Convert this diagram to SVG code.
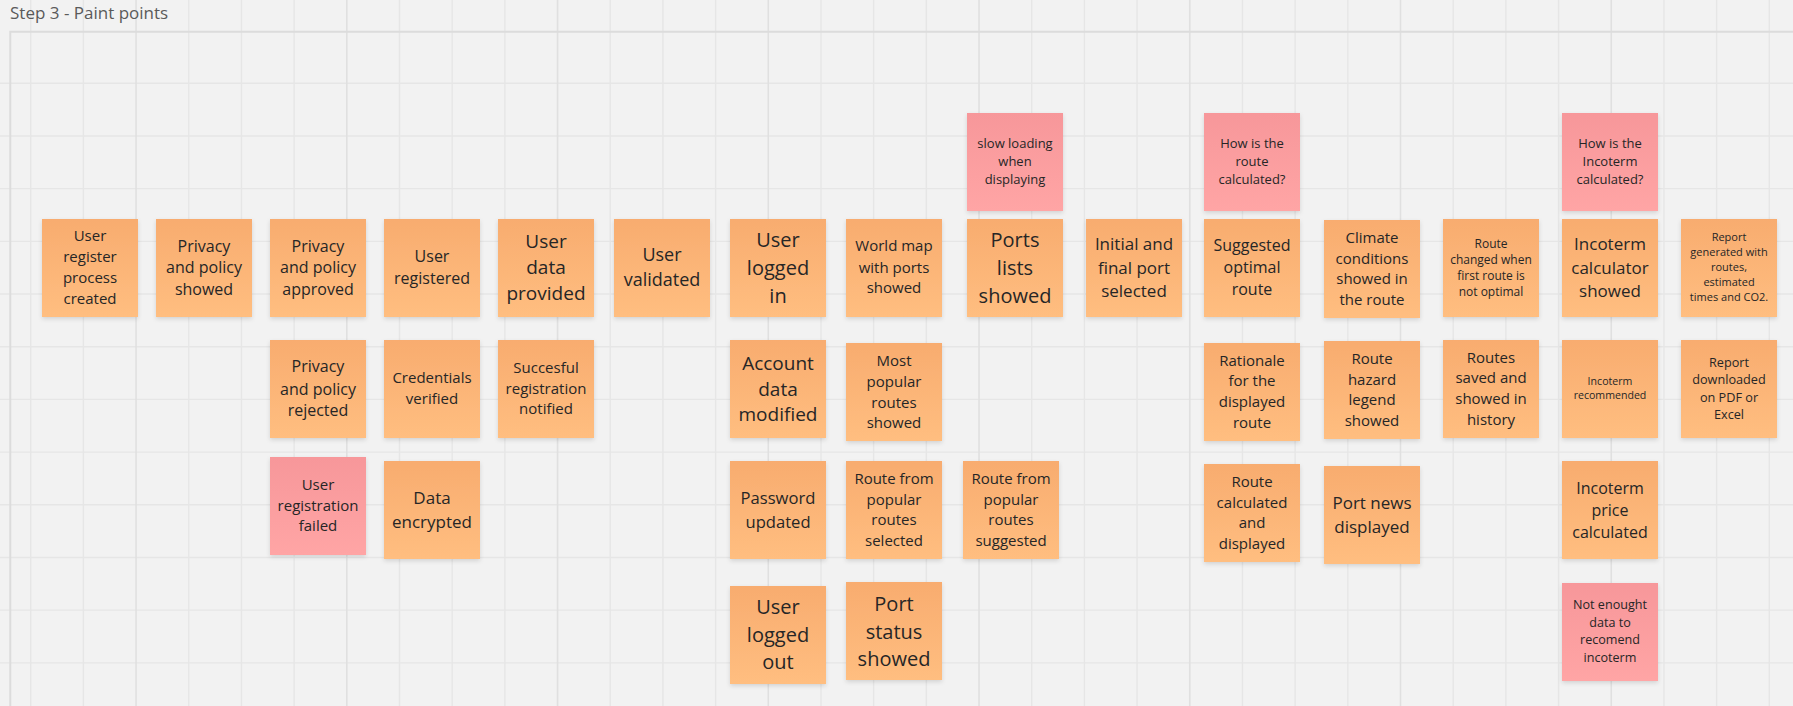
<svg xmlns="http://www.w3.org/2000/svg" width="1793" height="706" viewBox="0 0 1793 706">
<style>
.bg{fill:#f2f2f2}
.grid{stroke:#e6e6e6;stroke-width:1.4;fill:none}
.gridM{stroke:#e0e0e0;stroke-width:1.6;fill:none}
.frame{stroke:#dcdcdc;stroke-width:2;fill:none}
.o{fill:url(#go);filter:url(#sh)}
.p{fill:url(#gp);filter:url(#sh)}
.t{font-family:"Open Sans","Liberation Sans",sans-serif;fill:#262626;text-anchor:middle}
.title{font-family:"Open Sans","Liberation Sans",sans-serif;font-size:17px;fill:#5a5a5a}
</style>
<defs>
<linearGradient id="go" x1="0" y1="0" x2="0" y2="1"><stop offset="0" stop-color="#f8ac6f"/><stop offset="1" stop-color="#ffbe80"/></linearGradient>
<linearGradient id="gp" x1="0" y1="0" x2="0" y2="1"><stop offset="0" stop-color="#f7979a"/><stop offset="1" stop-color="#ffa5a5"/></linearGradient>
<filter id="sh" x="-10%" y="-10%" width="120%" height="125%"><feDropShadow dx="0" dy="2" stdDeviation="2" flood-color="#000" flood-opacity="0.13"/></filter>
</defs>
<rect class="bg" x="0" y="0" width="1793" height="706"/>
<g id="grid">
<path class="grid" d="M30.7 0V706M83.39 0V706M188.76 0V706M241.44 0V706M294.13 0V706M399.5 0V706M452.18 0V706M504.87 0V706M610.24 0V706M662.92 0V706M715.61 0V706M820.98 0V706M873.66 0V706M926.35 0V706M1031.72 0V706M1084.4 0V706M1137.09 0V706M1242.46 0V706M1295.14 0V706M1347.83 0V706M1453.2 0V706M1505.88 0V706M1558.57 0V706M1663.94 0V706M1716.62 0V706M1769.31 0V706M0 83.3H1793M0 135.99H1793M0 188.67H1793M0 241.36H1793M0 294.04H1793M0 346.73H1793M0 399.41H1793M0 452.1H1793M0 504.78H1793M0 557.47H1793M0 610.15H1793M0 662.84H1793"/>
<path class="gridM" d="M136.07 0V706M346.81 0V706M557.55 0V706M768.29 0V706M979.03 0V706M1189.77 0V706M1400.51 0V706M1611.25 0V706"/>
<path class="frame" d="M10.3 706V31.7H1793"/>
</g>
<text class="title" x="10" y="18.5">Step 3 - Paint points</text>
<g id="connectors"/>

<g id="n01"><rect class="o" x="42" y="219" width="96" height="98"/><text class="t" font-size="15"><tspan x="90" y="241">User</tspan><tspan x="90" y="262">register</tspan><tspan x="90" y="283">process</tspan><tspan x="90" y="303.5">created</tspan></text></g>
<g id="n02"><rect class="o" x="156" y="219" width="96" height="98"/><text class="t" font-size="16"><tspan x="204" y="251.6">Privacy</tspan><tspan x="204" y="273.3">and policy</tspan><tspan x="204" y="294.9">showed</tspan></text></g>
<g id="n03"><rect class="o" x="270" y="219" width="96" height="98"/><text class="t" font-size="16"><tspan x="318" y="251.6">Privacy</tspan><tspan x="318" y="273.3">and policy</tspan><tspan x="318" y="294.9">approved</tspan></text></g>
<g id="n04"><rect class="o" x="384" y="219" width="96" height="98"/><text class="t" font-size="16"><tspan x="432" y="262.3">User</tspan><tspan x="432" y="283.9">registered</tspan></text></g>
<g id="n05"><rect class="o" x="498" y="219" width="96" height="98"/><text class="t" font-size="19"><tspan x="546" y="248.4">User</tspan><tspan x="546" y="274.4">data</tspan><tspan x="546" y="300">provided</tspan></text></g>
<g id="n06"><rect class="o" x="614" y="219" width="96" height="98"/><text class="t" font-size="18"><tspan x="662" y="261.3">User</tspan><tspan x="662" y="286.3">validated</tspan></text></g>
<g id="n07"><rect class="o" x="730" y="219" width="96" height="98"/><text class="t" font-size="20"><tspan x="778" y="247">User</tspan><tspan x="778" y="274.7">logged</tspan><tspan x="778" y="302.7">in</tspan></text></g>
<g id="n08"><rect class="o" x="846" y="219" width="96" height="98"/><text class="t" font-size="15"><tspan x="894" y="251.3">World map</tspan><tspan x="894" y="272.6">with ports</tspan><tspan x="894" y="293">showed</tspan></text></g>
<g id="n09"><rect class="o" x="967" y="219" width="96" height="98"/><text class="t" font-size="20"><tspan x="1015" y="247">Ports</tspan><tspan x="1015" y="274.7">lists</tspan><tspan x="1015" y="302.7">showed</tspan></text></g>
<g id="n10"><rect class="o" x="1086" y="219" width="96" height="98"/><text class="t" font-size="17"><tspan x="1134" y="250">Initial and</tspan><tspan x="1134" y="273.6">final port</tspan><tspan x="1134" y="296.6">selected</tspan></text></g>
<g id="n11"><rect class="o" x="1204" y="219" width="96" height="98"/><text class="t" font-size="16"><tspan x="1252" y="251.3">Suggested</tspan><tspan x="1252" y="273.3">optimal</tspan><tspan x="1252" y="295.3">route</tspan></text></g>
<g id="n12"><rect class="o" x="1324" y="220" width="96" height="98"/><text class="t" font-size="15"><tspan x="1372" y="242.6">Climate</tspan><tspan x="1372" y="263.6">conditions</tspan><tspan x="1372" y="284.3">showed in</tspan><tspan x="1372" y="305">the route</tspan></text></g>
<g id="n13"><rect class="o" x="1443" y="219" width="96" height="98"/><text class="t" font-size="12"><tspan x="1491" y="247.5">Route</tspan><tspan x="1491" y="263.5">changed when</tspan><tspan x="1491" y="279.5">first route is</tspan><tspan x="1491" y="295.5">not optimal</tspan></text></g>
<g id="n14"><rect class="o" x="1562" y="219" width="96" height="98"/><text class="t" font-size="17"><tspan x="1610" y="250.3">Incoterm</tspan><tspan x="1610" y="273.6">calculator</tspan><tspan x="1610" y="297">showed</tspan></text></g>
<g id="n15"><rect class="o" x="1681" y="219" width="96" height="98"/><text class="t" font-size="11"><tspan x="1729" y="241.2">Report</tspan><tspan x="1729" y="256.2">generated with</tspan><tspan x="1729" y="271.2">routes,</tspan><tspan x="1729" y="285.9">estimated</tspan><tspan x="1729" y="300.9">times and CO2.</tspan></text></g>

<g id="p01"><rect class="p" x="967" y="113" width="96" height="98"/><text class="t" font-size="13"><tspan x="1015" y="148.3">slow loading</tspan><tspan x="1015" y="165.9">when</tspan><tspan x="1015" y="183.6">displaying</tspan></text></g>
<g id="p02"><rect class="p" x="1204" y="113" width="96" height="98"/><text class="t" font-size="13"><tspan x="1252" y="148.3">How is the</tspan><tspan x="1252" y="165.9">route</tspan><tspan x="1252" y="183.6">calculated?</tspan></text></g>
<g id="p03"><rect class="p" x="1562" y="113" width="96" height="98"/><text class="t" font-size="13"><tspan x="1610" y="148.3">How is the</tspan><tspan x="1610" y="165.9">Incoterm</tspan><tspan x="1610" y="183.6">calculated?</tspan></text></g>

<g id="n19"><rect class="o" x="270" y="340" width="96" height="98"/><text class="t" font-size="16"><tspan x="318" y="372.3">Privacy</tspan><tspan x="318" y="394.6">and policy</tspan><tspan x="318" y="415.9">rejected</tspan></text></g>
<g id="n20"><rect class="o" x="384" y="340" width="96" height="98"/><text class="t" font-size="15"><tspan x="432" y="383">Credentials</tspan><tspan x="432" y="404">verified</tspan></text></g>
<g id="n21"><rect class="o" x="498" y="340" width="96" height="98"/><text class="t" font-size="15"><tspan x="546" y="372.6">Succesful</tspan><tspan x="546" y="393.6">registration</tspan><tspan x="546" y="414.3">notified</tspan></text></g>
<g id="n22"><rect class="o" x="730" y="340" width="96" height="98"/><text class="t" font-size="19"><tspan x="778" y="370">Account</tspan><tspan x="778" y="395.7">data</tspan><tspan x="778" y="421.4">modified</tspan></text></g>
<g id="n23"><rect class="o" x="846" y="343" width="96" height="98"/><text class="t" font-size="15"><tspan x="894" y="365.6">Most</tspan><tspan x="894" y="387">popular</tspan><tspan x="894" y="407.6">routes</tspan><tspan x="894" y="428">showed</tspan></text></g>
<g id="n24"><rect class="o" x="1204" y="343" width="96" height="98"/><text class="t" font-size="15"><tspan x="1252" y="365.6">Rationale</tspan><tspan x="1252" y="386.3">for the</tspan><tspan x="1252" y="407">displayed</tspan><tspan x="1252" y="428">route</tspan></text></g>
<g id="n25"><rect class="o" x="1324" y="341" width="96" height="98"/><text class="t" font-size="15"><tspan x="1372" y="364">Route</tspan><tspan x="1372" y="384.6">hazard</tspan><tspan x="1372" y="405.3">legend</tspan><tspan x="1372" y="426">showed</tspan></text></g>
<g id="n26"><rect class="o" x="1443" y="340" width="96" height="98"/><text class="t" font-size="15"><tspan x="1491" y="362.6">Routes</tspan><tspan x="1491" y="383.3">saved and</tspan><tspan x="1491" y="404">showed in</tspan><tspan x="1491" y="424.6">history</tspan></text></g>
<g id="n27"><rect class="o" x="1562" y="340" width="96" height="98"/><text class="t" font-size="10.6"><tspan x="1610" y="384.7">Incoterm</tspan><tspan x="1610" y="399.4">recommended</tspan></text></g>
<g id="n28"><rect class="o" x="1681" y="340" width="96" height="98"/><text class="t" font-size="12.7"><tspan x="1729" y="366.8">Report</tspan><tspan x="1729" y="383.8">downloaded</tspan><tspan x="1729" y="401.5">on PDF or</tspan><tspan x="1729" y="419.2">Excel</tspan></text></g>

<g id="n29"><rect class="p" x="270" y="457" width="96" height="98"/><text class="t" font-size="15"><tspan x="318" y="489.6">User</tspan><tspan x="318" y="510.6">registration</tspan><tspan x="318" y="531">failed</tspan></text></g>
<g id="n30"><rect class="o" x="384" y="461" width="96" height="98"/><text class="t" font-size="17"><tspan x="432" y="504.3">Data</tspan><tspan x="432" y="527.7">encrypted</tspan></text></g>
<g id="n31"><rect class="o" x="730" y="461" width="96" height="98"/><text class="t" font-size="16.6"><tspan x="778" y="504.1">Password</tspan><tspan x="778" y="527.5">updated</tspan></text></g>
<g id="n32"><rect class="o" x="846" y="461" width="96" height="98"/><text class="t" font-size="15"><tspan x="894" y="484">Route from</tspan><tspan x="894" y="504.6">popular</tspan><tspan x="894" y="525.3">routes</tspan><tspan x="894" y="546">selected</tspan></text></g>
<g id="n33"><rect class="o" x="963" y="461" width="96" height="98"/><text class="t" font-size="15"><tspan x="1011" y="484">Route from</tspan><tspan x="1011" y="504.6">popular</tspan><tspan x="1011" y="525.3">routes</tspan><tspan x="1011" y="546">suggested</tspan></text></g>
<g id="n34"><rect class="o" x="1204" y="464" width="96" height="98"/><text class="t" font-size="15"><tspan x="1252" y="487">Route</tspan><tspan x="1252" y="507.6">calculated</tspan><tspan x="1252" y="528.3">and</tspan><tspan x="1252" y="549.3">displayed</tspan></text></g>
<g id="n35"><rect class="o" x="1324" y="466" width="96" height="98"/><text class="t" font-size="17"><tspan x="1372" y="509.3">Port news</tspan><tspan x="1372" y="532.7">displayed</tspan></text></g>
<g id="n36"><rect class="o" x="1562" y="461" width="96" height="98"/><text class="t" font-size="16"><tspan x="1610" y="493.9">Incoterm</tspan><tspan x="1610" y="515.9">price</tspan><tspan x="1610" y="537.6">calculated</tspan></text></g>

<g id="n37"><rect class="o" x="730" y="586" width="96" height="98"/><text class="t" font-size="20"><tspan x="778" y="614.3">User</tspan><tspan x="778" y="642">logged</tspan><tspan x="778" y="669.3">out</tspan></text></g>
<g id="n38"><rect class="o" x="846" y="582" width="96" height="98"/><text class="t" font-size="20"><tspan x="894" y="610.7">Port</tspan><tspan x="894" y="638.7">status</tspan><tspan x="894" y="666">showed</tspan></text></g>
<g id="n39"><rect class="p" x="1562" y="583" width="96" height="98"/><text class="t" font-size="12.6"><tspan x="1610" y="609.1">Not enought</tspan><tspan x="1610" y="627.1">data to</tspan><tspan x="1610" y="644.4">recomend</tspan><tspan x="1610" y="661.7">incoterm</tspan></text></g>
</svg>
